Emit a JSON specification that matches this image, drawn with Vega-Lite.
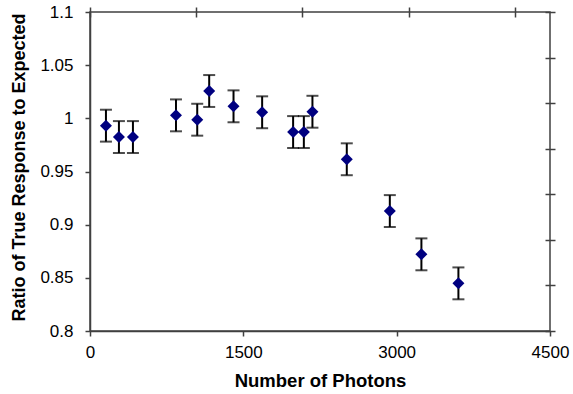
{
  "$schema": "https://vega.github.io/schema/vega-lite/v6.json",
  "width": 460,
  "height": 319,
  "autosize": "none",
  "padding": {"left": 90, "top": 12, "right": 23, "bottom": 63},
  "background": "white",
  "config": {
    "view": {"stroke": "#404040", "strokeWidth": 1.5},
    "font": "Liberation Sans",
    "axis": {
      "grid": false,
      "domainColor": "#404040",
      "domainWidth": 1.5,
      "tickColor": "#404040",
      "tickWidth": 1.5,
      "labelFont": "Liberation Sans",
      "labelFontSize": 17,
      "labelColor": "black",
      "titleFont": "Liberation Sans",
      "titleFontSize": 18,
      "titleFontWeight": "bold",
      "titleColor": "black"
    }
  },
  "data": {
    "values": [
      {"photons": 156, "ratio": 0.9931, "lo": 0.9781, "hi": 1.0081},
      {"photons": 283, "ratio": 0.9824, "lo": 0.9674, "hi": 0.9974},
      {"photons": 420, "ratio": 0.9824, "lo": 0.9674, "hi": 0.9974},
      {"photons": 841, "ratio": 1.0028, "lo": 0.9878, "hi": 1.0178},
      {"photons": 1049, "ratio": 0.9987, "lo": 0.9837, "hi": 1.0137},
      {"photons": 1166, "ratio": 1.0257, "lo": 1.0107, "hi": 1.0407},
      {"photons": 1404, "ratio": 1.0113, "lo": 0.9963, "hi": 1.0263},
      {"photons": 1684, "ratio": 1.0057, "lo": 0.9907, "hi": 1.0207},
      {"photons": 1987, "ratio": 0.9871, "lo": 0.9721, "hi": 1.0021},
      {"photons": 2092, "ratio": 0.9871, "lo": 0.9721, "hi": 1.0021},
      {"photons": 2176, "ratio": 1.0062, "lo": 0.9912, "hi": 1.0212},
      {"photons": 2512, "ratio": 0.9615, "lo": 0.9465, "hi": 0.9765},
      {"photons": 2933, "ratio": 0.9128, "lo": 0.8978, "hi": 0.9278},
      {"photons": 3242, "ratio": 0.8721, "lo": 0.8571, "hi": 0.8871},
      {"photons": 3604, "ratio": 0.8448, "lo": 0.8298, "hi": 0.8598}
    ]
  },
  "resolve": {"axis": {"x": "independent", "y": "independent"}},
  "layer": [
    {
      "mark": {"type": "rule", "color": "black", "strokeWidth": 2},
      "encoding": {
        "x": {
          "field": "photons", "type": "quantitative",
          "scale": {"domain": [0, 4500], "nice": false},
          "axis": {
            "orient": "bottom",
            "title": "Number of Photons",
            "titleFontSize": 18.5,
            "values": [0, 1500, 3000, 4500],
            "format": "d",
            "tickSize": 5,
            "labelPadding": 8,
            "titlePadding": 11,
            "labelFlush": false
          }
        },
        "y": {
          "field": "lo", "type": "quantitative",
          "scale": {"domain": [0.8, 1.1], "nice": false, "zero": false},
          "axis": {
            "orient": "left",
            "title": "Ratio of True Response to Expected",
            "titleY": 155,
            "values": [0.8, 0.85, 0.9, 0.95, 1, 1.05, 1.1],
            "format": "~g",
            "tickSize": 5,
            "labelPadding": 12,
            "titlePadding": 11,
            "labelFlush": false
          }
        },
        "y2": {"field": "hi"}
      }
    },
    {
      "mark": {"type": "tick", "orient": "horizontal", "color": "black", "size": 12, "thickness": 2},
      "encoding": {
        "x": {"field": "photons", "type": "quantitative", "scale": {"domain": [0, 4500], "nice": false}, "axis": null},
        "y": {"field": "hi", "type": "quantitative", "scale": {"domain": [0.8, 1.1], "nice": false, "zero": false}, "axis": null}
      }
    },
    {
      "mark": {"type": "tick", "orient": "horizontal", "color": "black", "size": 12, "thickness": 2},
      "encoding": {
        "x": {"field": "photons", "type": "quantitative", "scale": {"domain": [0, 4500], "nice": false}, "axis": null},
        "y": {"field": "lo", "type": "quantitative", "scale": {"domain": [0.8, 1.1], "nice": false, "zero": false}, "axis": null}
      }
    },
    {
      "mark": {"type": "point", "shape": "diamond", "filled": true, "color": "#000080", "size": 144, "opacity": 1},
      "encoding": {
        "x": {
          "field": "photons", "type": "quantitative",
          "scale": {"domain": [0, 4500], "nice": false},
          "axis": {
            "orient": "top",
            "title": null,
            "values": [0, 1039, 2078, 3117, 4156],
            "labels": false,
            "domain": false,
            "tickSize": 10,
            "offset": -5
          }
        },
        "y": {
          "field": "ratio", "type": "quantitative",
          "scale": {"domain": [0.8, 1.1], "nice": false, "zero": false},
          "axis": {
            "orient": "right",
            "title": null,
            "values": [0.8, 0.842857, 0.885714, 0.928571, 0.971429, 1.014286, 1.057143, 1.1],
            "labels": false,
            "domain": false,
            "tickSize": 10,
            "offset": -5
          }
        }
      }
    }
  ]
}
